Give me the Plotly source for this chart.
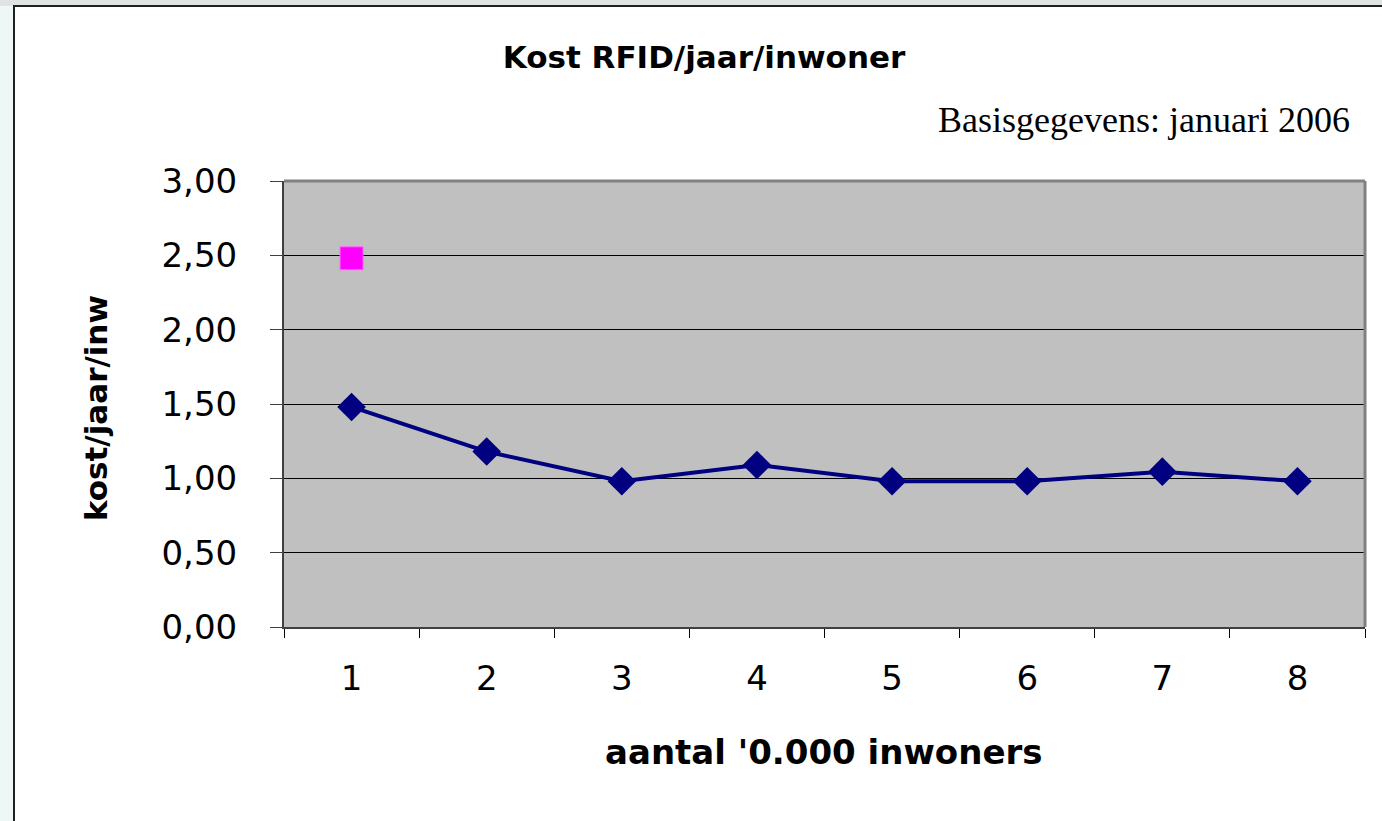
import plotly.graph_objects as go

categories = ["1", "2", "3", "4", "5", "6", "7", "8"]
kost_rfid = [1.48, 1.18, 0.98, 1.09, 0.98, 0.98, 1.045, 0.98]
basis_punt = [2.48, None, None, None, None, None, None, None]
y_ticks = [0, 0.5, 1.0, 1.5, 2.0, 2.5, 3.0]
y_tick_labels = ["0,00", "0,50", "1,00", "1,50", "2,00", "2,50", "3,00"]

W, H = 1382, 821
L, R, T, B = 284, 1365, 181, 627
pw, ph = R - L, B - T

def px(x):
    return (x - L) / pw

def py(y):
    return (B - y) / ph

fig = go.Figure()
fig.add_trace(go.Scatter(
    x=categories, y=kost_rfid, mode="lines+markers",
    line=dict(color="#000080", width=4),
    marker=dict(symbol="diamond", size=22, color="#000080"),
    showlegend=False, cliponaxis=False,
))
fig.add_trace(go.Scatter(
    x=categories, y=basis_punt, mode="markers",
    marker=dict(symbol="square", size=23, color="#ff00ff",
                line=dict(color="#ff66ff", width=1)),
    showlegend=False, cliponaxis=False,
))

# light background strips outside the chart frame
fig.add_shape(type="rect", xref="paper", yref="paper",
              x0=px(-5), x1=px(14), y0=py(830), y1=py(-5),
              fillcolor="#eef6f6", line=dict(width=0), layer="below")
fig.add_shape(type="rect", xref="paper", yref="paper",
              x0=px(-5), x1=px(1390), y0=py(6), y1=py(-5),
              fillcolor="#dfe3e3", line=dict(width=0), layer="below")
# outer chart frame
fig.add_shape(type="rect", xref="paper", yref="paper",
              x0=px(14), x1=px(1395), y0=py(835), y1=py(6),
              fillcolor="rgba(0,0,0,0)", line=dict(color="#202020", width=2), layer="below")
# plot area top & right gray border
fig.add_shape(type="line", xref="paper", yref="paper",
              x0=0, x1=1, y0=1, y1=1, line=dict(color="#808080", width=3))
fig.add_shape(type="line", xref="paper", yref="paper",
              x0=1, x1=1, y0=0, y1=1, line=dict(color="#808080", width=3))

fig.add_annotation(xref="paper", yref="paper", x=px(1352), y=py(120),
                   xanchor="right", yanchor="middle", showarrow=False,
                   text="Basisgegevens: januari 2006",
                   font=dict(family="Liberation Serif", size=36, color="black"))
fig.add_annotation(xref="paper", yref="paper", x=px(823), y=py(752),
                   xanchor="center", yanchor="middle", showarrow=False,
                   text="<b>aantal '0.000 inwoners</b>",
                   font=dict(family="DejaVu Sans", size=34, color="black"))
fig.add_annotation(xref="paper", yref="paper", x=px(96), y=py(408),
                   xanchor="center", yanchor="middle", showarrow=False, textangle=-90,
                   text="<b>kost/jaar/inw</b>",
                   font=dict(family="DejaVu Sans", size=31, color="black"))

fig.update_layout(
    width=W, height=H,
    margin=dict(l=L, r=W - R, t=T, b=H - B, pad=0),
    paper_bgcolor="white",
    plot_bgcolor="#c0c0c0",
    title=dict(text="<b>Kost RFID/jaar/inwoner</b>", x=704 / W, xanchor="center",
               y=1 - 57 / H, yanchor="middle",
               font=dict(family="DejaVu Sans", size=31, color="black")),
    xaxis=dict(type="category", tickson="boundaries", ticks="outside", ticklen=9,
               tickcolor="black", tickwidth=1, showgrid=False,
               showline=True, linecolor="#404040", linewidth=2,
               tickfont=dict(family="DejaVu Sans", size=34, color="black"),
               ticklabelstandoff=20, range=[-0.5, 7.5]),
    yaxis=dict(range=[0, 3], tickvals=y_ticks, ticktext=y_tick_labels,
               ticks="outside", ticklen=12, tickcolor="#404040", tickwidth=1,
               showgrid=True, gridcolor="black", gridwidth=1, zeroline=False,
               showline=True, linecolor="#404040", linewidth=2,
               tickfont=dict(family="DejaVu Sans", size=34, color="black"),
               ticklabelstandoff=26),
)

fig.write_html("out.html", config={"displayModeBar": False},
               post_script="document.body.style.margin='0';document.body.style.overflow='hidden';")
